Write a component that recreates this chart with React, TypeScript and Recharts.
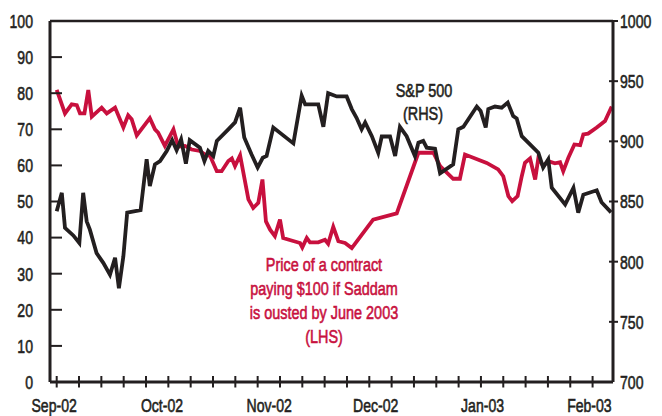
import React from 'react';
import { LineChart, Line, XAxis, YAxis, ReferenceLine } from 'recharts';

// Saddam contract price (LHS, $) - day offsets from start of Sep-02
const saddamDays = [
  0, 2.6, 4.7, 6.3, 7.3, 8.7, 9.9, 11, 14.1, 15.7, 18.3, 20.9, 22.4, 23.5, 25.1,
  29.2, 30.8, 31.8, 33.9, 36.6, 38.1, 40.2, 42.3, 44.9, 46.5, 48.1, 50.2, 51.7,
  53.8, 54.9, 55.9, 57.5, 60.1, 61.6, 63.2, 64.5, 65.6, 66.9, 68.4, 70, 71, 73.6,
  76.3, 77, 78.4, 79.4, 82, 84.1, 85.1, 86.7, 88.3, 90.4, 92.5, 99.2, 106.6,
  113.4, 118.1, 120.2, 124.3, 126.4, 128, 134.8, 138.4, 140, 141.6, 142.8, 144.5,
  145.8, 146.8, 148.4, 150, 151, 152.5, 154.1, 156.2, 157.8, 158.8, 160.4, 162.3,
  164.1, 165.1, 166.6, 169.3, 171.9, 174,
];
const saddamPrice = [
  80.9, 74.4, 76.9, 76.7, 74.4, 74.4, 80.9, 73.5, 76, 74.4, 76, 70.5, 73.9, 72.8,
  68.3, 73.1, 70, 69.1, 65.4, 70, 65.2, 65.4, 64.4, 64, 63, 62.6, 58.4, 58.4, 61.2,
  61.9, 59.8, 62.8, 50.6, 48.2, 49.6, 56.1, 44.5, 42.2, 40.4, 45, 39.9, 39.2, 38.5,
  37.3, 39.9, 38.7, 38.7, 39.4, 38.3, 43, 39, 38.5, 37.1, 45, 46.7, 63.5, 63.5,
  59.8, 56.3, 56.3, 63, 60.7, 58.9, 57, 51.5, 50.1, 51.5, 57, 60.7, 61.9, 56.1,
  62.1, 59.8, 61.2, 60.6, 60.9, 58.4, 62.1, 65.8, 65.6, 68.6, 68.8, 70.5, 72.3, 76.3,
];

// S&P 500 (RHS)
const spDays = [
  0, 1.6, 2.6, 5.2, 7.1, 8.3, 9.4, 10.4, 12.5, 14.6, 16.7, 18.3, 19.5, 20.9, 22.1,
  26.3, 28.2, 29.2, 30.8, 32.4, 34.5, 36.2, 37.6, 39, 40.5, 41.7, 44.9, 46.3, 47.5,
  49.1, 50.2, 53.8, 55.9, 57.5, 58.8, 61.1, 63, 64.6, 65.8, 67.9, 74.2, 76.8, 77.9,
  82, 83.6, 85.1, 87.8, 90.9, 92.5, 94, 95.6, 96.7, 98.8, 100.8, 101.9, 104.5,
  106.1, 107.6, 109.7, 112.3, 113.4, 114.9, 116, 118.6, 120.2, 124.3, 125.9, 127.5,
  131.7, 132.9, 134.5, 135.3, 137.4, 139.5, 141.4, 143.1, 144.2, 145.8, 151, 152.5,
  154.1, 155.2, 159.4, 162, 163.5, 165.1, 169.3, 170.8, 173.8,
];
const spIndex = [
  841.9, 857.2, 828.1, 821.8, 815.5, 857.2, 833.5, 826.6, 807.1, 799, 789.1, 803.2,
  778, 804.4, 840.7, 842.8, 885.1, 862.9, 880.9, 883.6, 892, 901, 892.6, 901.6,
  881.5, 901, 894.7, 883.6, 892, 887.8, 900.4, 910, 915.7, 928, 903.1, 889, 878.2,
  886.3, 887.8, 911.5, 898.3, 937.9, 930.7, 930.7, 912.1, 940, 937.3, 937.3, 926.8,
  919.6, 910, 915.7, 904.3, 890.5, 904, 904, 887.8, 912.1, 904.3, 887.8, 898.9,
  900.4, 894.7, 893.8, 873.4, 880.9, 910, 912.1, 928.9, 925.3, 911.5, 926.8, 928.9,
  928, 932.2, 921.1, 919, 904.3, 890.5, 878.2, 885.1, 861.4, 847.6, 861.4, 840.7,
  855.7, 859.3, 849.4, 841,
];

const weekTicks = [
  0, 7, 14, 21, 28, 35, 42, 49, 56, 63, 70, 77, 84, 91, 98, 105, 112, 119, 126, 133,
  140, 147, 154, 161, 168,
];
const monthTicks = [-0.8, 33, 66.6, 100, 133.5, 167];
const monthLabels = ['Sep-02', 'Oct-02', 'Nov-02', 'Dec-02', 'Jan-03', 'Feb-03'];
const leftTicks = [0, 10, 20, 30, 40, 50, 60, 70, 80, 90, 100];
const rightTicks = [700, 750, 800, 850, 900, 950, 1000];

const saddamData = saddamDays.map((day, i) => ({ day, value: saddamPrice[i] }));
const spData = spDays.map((day, i) => ({ day, value: spIndex[i] }));

const INK = '#231F20';
const RED = '#C8103E';
const FONT = "'Liberation Sans', Arial, sans-serif";

// condensed-looking text: squeeze a regular sans horizontally, thin stroke to add weight
const CondText = ({ x, y, anchor, fill = INK, sx = 0.76, children }: any) => (
  <text
    transform={`translate(${x},${y}) scale(${sx},1)`}
    textAnchor={anchor}
    dy="0.36em"
    fontSize={19}
    fontFamily={FONT}
    fill={fill}
    stroke={fill}
    strokeWidth={0.6}
  >
    {children}
  </text>
);

const LeftTick = ({ x, y, payload }: any) => {
  const v = payload.value;
  return (
    <g>
      {v > 0 && v < 100 && <line x1={x} x2={x + 12} y1={y} y2={y} stroke={INK} strokeWidth={2} />}
      <CondText x={x - 17} y={y} anchor="end" sx={0.74}>{v}</CondText>
    </g>
  );
};

const RightTick = ({ x, y, payload }: any) => {
  const v = payload.value;
  return (
    <g>
      {v > 700 && <line x1={x - 4} x2={x + 5} y1={y} y2={y} stroke={INK} strokeWidth={2} />}
      <CondText x={x + 7} y={y} anchor="start" sx={0.74}>{v}</CondText>
    </g>
  );
};

const BottomTick = ({ x, y, payload }: any) => {
  const v = payload.value;
  const m = monthTicks.indexOf(v);
  if (m >= 0) {
    return <CondText x={x} y={y + 23} anchor="middle" sx={0.74}>{monthLabels[m]}</CondText>;
  }
  return <line x1={x} x2={x} y1={y - 6} y2={y + 5.5} stroke={INK} strokeWidth={2} />;
};

export default function App() {
  return (
    <LineChart width={654} height={408} margin={{ top: 13, right: 0, bottom: 0, left: 0 }}>
      <XAxis
        dataKey="day"
        type="number"
        domain={[-2.1, 174.4]}
        allowDataOverflow
        ticks={[...weekTicks, ...monthTicks]}
        interval={0}
        tick={<BottomTick />}
        tickLine={false}
        tickSize={0}
        tickMargin={0}
        height={34}
        axisLine={{ stroke: INK, strokeWidth: 3 }}
      />
      <YAxis
        yAxisId="left"
        domain={[0, 100]}
        ticks={leftTicks}
        interval={0}
        width={42}
        tick={<LeftTick />}
        tickLine={false}
        tickSize={0}
        tickMargin={0}
        axisLine={{ stroke: INK, strokeWidth: 3 }}
      />
      <YAxis
        yAxisId="right"
        orientation="right"
        domain={[700, 1000]}
        ticks={rightTicks}
        interval={0}
        width={49}
        tick={<RightTick />}
        tickLine={false}
        tickSize={0}
        tickMargin={0}
        axisLine={{ stroke: INK, strokeWidth: 3 }}
      />
      <ReferenceLine yAxisId="left" y={100} stroke={INK} strokeWidth={2.5} />
      <Line
        data={saddamData}
        dataKey="value"
        yAxisId="left"
        type="linear"
        stroke={RED}
        strokeWidth={3.8}
        dot={false}
        isAnimationActive={false}
      />
      <Line
        data={spData}
        dataKey="value"
        yAxisId="right"
        type="linear"
        stroke={INK}
        strokeWidth={3.8}
        dot={false}
        isAnimationActive={false}
      />
      <CondText x={416} y={82} anchor="middle">S&amp;P 500</CondText>
      <CondText x={415} y={105} anchor="middle">(RHS)</CondText>
      <CondText x={316} y={256} anchor="middle" fill={RED}>Price of a contract</CondText>
      <CondText x={316} y={280} anchor="middle" fill={RED}>paying $100 if Saddam</CondText>
      <CondText x={316} y={304} anchor="middle" fill={RED}>is ousted by June 2003</CondText>
      <CondText x={316} y={328} anchor="middle" fill={RED}>(LHS)</CondText>
    </LineChart>
  );
}
